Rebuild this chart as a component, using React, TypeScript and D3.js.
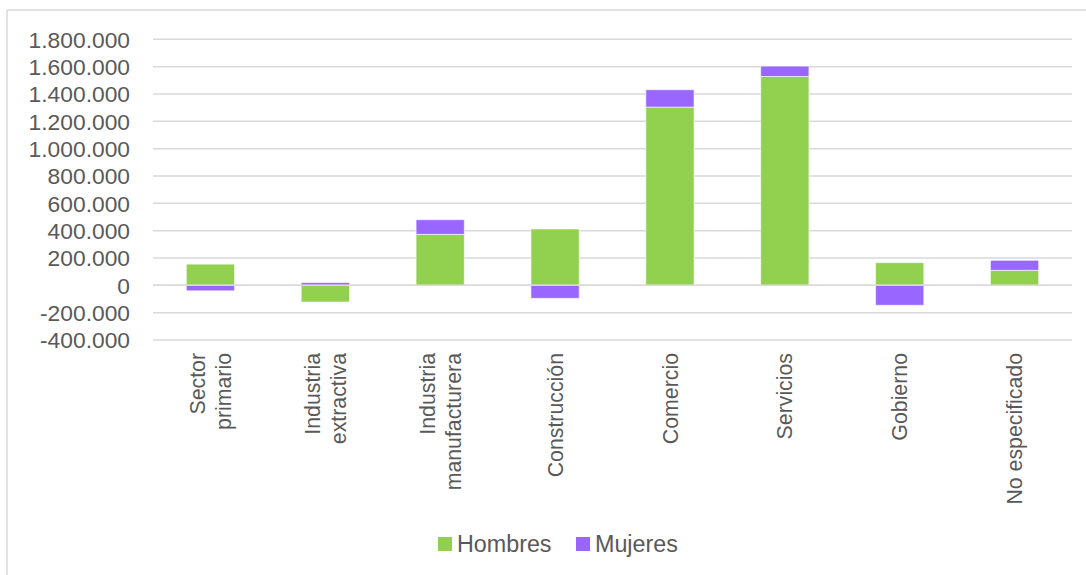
import React from "react";
import * as d3 from "d3";

// Sector categories (line breaks as displayed on the axis)
const categories: string[][] = [
  ["Sector", "primario"],
  ["Industria", "extractiva"],
  ["Industria", "manufacturera"],
  ["Construcción"],
  ["Comercio"],
  ["Servicios"],
  ["Gobierno"],
  ["No especificado"],
];

const hombres = [155000, -122000, 373000, 412000, 1304000, 1528000, 166000, 110000];
const mujeres = [-40000, 20000, 107000, -95000, 127000, 76000, -146000, 73000];

const yTicks = [-400000, -200000, 0, 200000, 400000, 600000, 800000, 1000000, 1200000, 1400000, 1600000, 1800000];

const seriesNames = ["Hombres", "Mujeres"];
const seriesColors = ["#92D050", "#9966FF"];

const W = 1086;
const H = 575;
const FONT = "'Liberation Sans', Arial, sans-serif";
const TEXT = "#595959";
const GRID = "#D9D9D9";

const fmt = (v: number) => {
  const s = d3.format(",")(Math.abs(v)).replace(/,/g, ".");
  return (v < 0 ? "-" : "") + s;
};

export default function App() {
  const keys = categories.map((c) => c.join(" "));
  const rows = keys.map((k, i) => ({ key: k, Hombres: hombres[i], Mujeres: mujeres[i] }));

  const x = d3.scaleBand<string>().domain(keys).range([153, 1072]).paddingInner(0.58).paddingOuter(0.29);
  const y = d3.scaleLinear().domain([-400000, 1800000]).range([340, 39.3]);

  const stack = d3.stack<any>().keys(seriesNames).offset(d3.stackOffsetDiverging);
  const layers = stack(rows);

  return (
    <svg width={W} height={H} style={{ position: "absolute", left: 0, top: 0 }} fontFamily={FONT}>
      <rect x={0} y={0} width={W} height={H} fill="#fff" />
      {/* chart frame */}
      <line x1={7} x2={W} y1={10} y2={10} stroke={GRID} strokeWidth={1.5} />
      <line x1={7} x2={7} y1={10} y2={H} stroke={GRID} strokeWidth={1.5} />

      {/* gridlines */}
      {yTicks.map((t) => (
        <line key={t} x1={153} x2={1072} y1={y(t)} y2={y(t)} stroke={GRID} strokeWidth={1.5} />
      ))}

      {/* y labels */}
      {yTicks.map((t) => (
        <text key={"l" + t} x={130} y={y(t)} dy="0.36em" textAnchor="end" fontSize={22.8} fill={TEXT}>
          {fmt(t)}
        </text>
      ))}

      {/* stacked bars */}
      {layers.map((layer, li) =>
        layer.map((d, i) => {
          const y0 = y(Math.max(d[0], d[1]));
          const y1 = y(Math.min(d[0], d[1]));
          return (
            <rect
              key={li + "-" + i}
              x={x(keys[i])}
              y={y0}
              width={x.bandwidth()}
              height={Math.max(0, y1 - y0)}
              fill={seriesColors[li]}
              stroke="#ffffff"
              strokeOpacity={0.6}
              strokeWidth={1}
            />
          );
        })
      )}

      {/* category axis line at zero */}
      <line x1={153} x2={1072} y1={y(0)} y2={y(0)} stroke={GRID} strokeWidth={1.5} />

      {/* category labels */}
      {categories.map((lines, i) => {
        const cx = (x(keys[i]) as number) + x.bandwidth() / 2;
        return (
          <text key={"c" + i} transform={`translate(${cx},353) rotate(-90)`} textAnchor="end" fontSize={21.3} fill={TEXT}>
            {lines.map((ln, j) => (
              <tspan key={j} x={0} y={(j - (lines.length - 1) / 2) * 26} dy="0.36em">
                {ln}
              </tspan>
            ))}
          </text>
        );
      })}

      {/* legend */}
      {seriesNames.map((n, i) => {
        const lx = [438, 576][i];
        return (
          <g key={n}>
            <rect x={lx} y={537} width={14} height={14} fill={seriesColors[i]} />
            <text x={lx + 19} y={544} dy="0.36em" fontSize={23.3} fill={TEXT}>
              {n}
            </text>
          </g>
        );
      })}
    </svg>
  );
}
